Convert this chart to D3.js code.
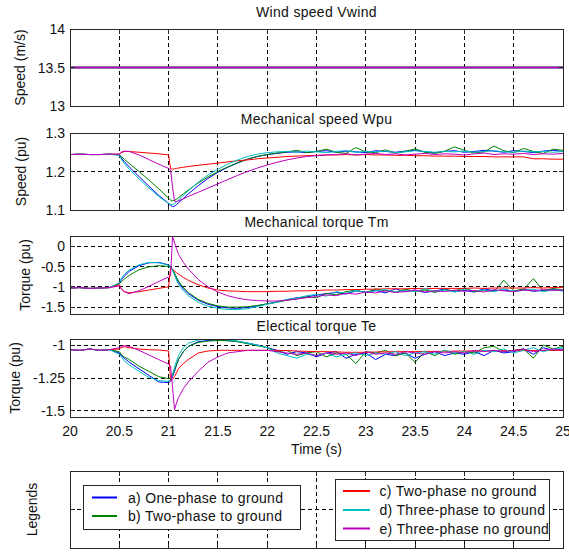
<!DOCTYPE html>
<html><head><meta charset="utf-8">
<script src="https://cdn.jsdelivr.net/npm/d3@7"></script>
<style>
body{margin:0;background:#fff}
svg{display:block}
text{font-family:"Liberation Sans",Arial,sans-serif;fill:#111;font-size:14px}
</style>
</head><body><svg id="c" width="569" height="552"></svg>
<script>
// ---------------- DATA ----------------
const seriesNames = ["a) One-phase to ground","b) Two-phase to ground","c) Two-phase no ground","d) Three-phase to ground","e) Three-phase no ground"];
const seriesColors = ["#0000ff","#008000","#ff0000","#00bfbf","#bf00bf"];

const xTicks = [20,20.5,21,21.5,22,22.5,23,23.5,24,24.5,25];
const xTickLabels = ["20","20.5","21","21.5","22","22.5","23","23.5","24","24.5","25"];

const windTime = [20,25];
const windA = [13.5,13.5], windB = [13.5,13.5], windC = [13.5,13.5], windD = [13.5,13.5], windE = [13.5,13.5];

const time = [20,20.1,20.2,20.3,20.4,20.5,20.52,20.55,20.6,20.7,20.8,20.9,21,21.02,21.04,21.06,21.08,21.1,21.15,21.2,21.3,21.4,21.5,21.6,21.7,21.8,21.9,22,
22.1,22.2,22.3,22.4,22.5,22.6,22.7,22.8,22.9,23,23.1,23.2,23.3,23.4,23.5,23.6,23.7,23.8,23.9,24,24.1,24.2,24.3,24.4,24.5,24.6,24.7,24.8,24.9,25];

// Mechanical speed Wpu
const wpuA = [1.244,1.245,1.244,1.244,1.245,
1.243,1.235,1.226,1.212,1.187,1.162,1.138,1.117,1.112,1.109,1.110,1.114,1.119,1.130,1.142,1.163,1.182,1.198,1.211,1.222,1.232,1.239,1.244,
1.247,1.250,1.251,1.249,1.252,1.254,1.250,1.253,1.251,1.249,1.254,1.252,1.250,1.253,1.255,1.251,1.249,1.252,1.254,1.250,1.252,1.255,1.253,1.250,1.254,1.252,1.249,1.253,1.255,1.252];
const wpuB = [1.244,1.245,1.244,1.244,1.245,
1.244,1.239,1.232,1.221,1.200,1.178,1.155,1.131,1.126,1.124,1.125,1.128,1.132,1.142,1.152,1.170,1.186,1.200,1.212,1.223,1.232,1.239,1.244,
1.248,1.251,1.255,1.249,1.252,1.258,1.250,1.247,1.262,1.251,1.249,1.256,1.248,1.252,1.259,1.250,1.247,1.253,1.264,1.255,1.248,1.251,1.266,1.254,1.249,1.260,1.252,1.247,1.258,1.255];
const wpuC = [1.244,1.245,1.244,1.244,1.245,
1.245,1.249,1.252,1.252,1.250,1.248,1.246,1.243,1.207,1.206,1.207,1.208,1.209,1.211,1.213,1.216,1.219,1.222,1.225,1.228,1.230,1.233,1.235,
1.237,1.239,1.240,1.241,1.242,1.243,1.243,1.244,1.243,1.244,1.243,1.243,1.242,1.242,1.241,1.241,1.240,1.240,1.240,1.239,1.239,1.239,1.238,1.238,1.238,1.238,1.233,1.233,1.232,1.232];
const wpuD = [1.244,1.245,1.244,1.244,1.245,
1.242,1.232,1.221,1.206,1.181,1.157,1.135,1.117,1.114,1.114,1.117,1.121,1.126,1.138,1.150,1.172,1.191,1.206,1.219,1.230,1.239,1.245,1.249,
1.251,1.252,1.250,1.253,1.251,1.249,1.252,1.254,1.250,1.252,1.251,1.253,1.249,1.251,1.254,1.252,1.250,1.252,1.251,1.253,1.250,1.252,1.254,1.251,1.250,1.253,1.251,1.252,1.250,1.252];
const wpuE = [1.244,1.245,1.244,1.244,1.245,
1.245,1.250,1.253,1.252,1.243,1.231,1.219,1.208,1.204,1.160,1.123,1.122,1.124,1.129,1.135,1.146,1.157,1.168,1.179,1.190,1.200,1.209,1.217,
1.224,1.230,1.235,1.239,1.241,1.243,1.244,1.246,1.243,1.245,1.247,1.244,1.246,1.243,1.245,1.247,1.244,1.246,1.245,1.243,1.246,1.248,1.244,1.246,1.245,1.247,1.244,1.246,1.245,1.247];

// Mechanical torque Tm
const tmA = [-1.03,-1.02,-1.04,-1.03,-1.02,
-0.92,-0.83,-0.74,-0.62,-0.48,-0.41,-0.40,-0.46,-0.50,-0.58,-0.68,-0.80,-0.90,-1.05,-1.17,-1.33,-1.43,-1.49,-1.52,-1.53,-1.51,-1.47,-1.42,
-1.37,-1.32,-1.27,-1.25,-1.20,-1.17,-1.14,-1.18,-1.10,-1.13,-1.09,-1.15,-1.05,-1.12,-1.08,-1.14,-1.10,-1.06,-1.12,-1.09,-1.13,-1.05,-1.10,-1.08,-1.12,-1.06,-1.11,-1.09,-1.07,-1.10];
const tmB = [-1.03,-1.02,-1.04,-1.03,-1.02,
-0.93,-0.88,-0.81,-0.72,-0.58,-0.51,-0.48,-0.50,-0.52,-0.58,-0.66,-0.76,-0.86,-1.02,-1.14,-1.31,-1.41,-1.47,-1.50,-1.50,-1.49,-1.46,-1.42,
-1.38,-1.33,-1.30,-1.25,-1.27,-1.16,-1.20,-1.12,-1.08,-1.15,-1.05,-1.10,-1.13,-1.06,-1.11,-1.08,-1.14,-1.07,-1.10,-1.03,-1.12,-1.09,-1.12,-0.84,-1.10,-1.06,-0.80,-1.10,-1.04,-1.08];
const tmC = [-1.03,-1.02,-1.04,-1.03,-1.02,
-0.95,-1.05,-1.12,-1.15,-1.12,-1.08,-1.04,-1.00,-0.54,-0.57,-0.61,-0.65,-0.69,-0.77,-0.84,-0.95,-1.03,-1.08,-1.10,-1.11,-1.12,-1.12,-1.12,
-1.11,-1.11,-1.10,-1.10,-1.09,-1.08,-1.08,-1.07,-1.07,-1.06,-1.06,-1.05,-1.05,-1.05,-1.04,-1.05,-1.04,-1.04,-1.04,-1.04,-1.03,-1.04,-1.03,-1.03,-1.03,-1.03,-1.02,-1.03,-1.02,-1.02];
const tmD = [-1.03,-1.02,-1.04,-1.03,-1.02,
-0.90,-0.80,-0.70,-0.59,-0.46,-0.40,-0.41,-0.47,-0.51,-0.60,-0.71,-0.83,-0.94,-1.10,-1.22,-1.38,-1.48,-1.53,-1.56,-1.56,-1.54,-1.49,-1.43,
-1.38,-1.31,-1.28,-1.22,-1.19,-1.23,-1.12,-1.16,-1.09,-1.14,-1.10,-1.07,-1.13,-1.09,-1.12,-1.05,-1.11,-1.08,-1.13,-1.06,-1.10,-1.08,-1.12,-1.05,-1.11,-1.09,-1.06,-1.12,-1.08,-1.10];
const tmE = [-1.03,-1.02,-1.04,-1.03,-1.02,
-0.98,-1.05,-1.12,-1.17,-1.10,-0.99,-0.87,-0.76,-0.73,0.24,0.08,-0.06,-0.20,-0.40,-0.56,-0.82,-1.00,-1.13,-1.22,-1.28,-1.32,-1.34,-1.35,
-1.35,-1.33,-1.30,-1.27,-1.24,-1.20,-1.22,-1.16,-1.18,-1.13,-1.15,-1.10,-1.14,-1.12,-1.08,-1.13,-1.10,-1.12,-1.08,-1.11,-1.09,-1.13,-1.07,-1.10,-1.12,-1.08,-1.10,-1.07,-1.09,-1.08];

// Electrical torque Te
const teA = [-1.035,-1.04,-1.03,-1.04,-1.035,
-1.06,-1.08,-1.10,-1.13,-1.18,-1.23,-1.28,-1.285,-1.275,-1.24,-1.20,-1.15,-1.11,-1.05,-1.01,-0.975,-0.965,-0.962,-0.965,-0.972,-0.985,-1.00,-1.02,
-1.04,-1.07,-1.05,-1.06,-1.09,-1.06,-1.05,-1.10,-1.07,-1.06,-1.11,-1.07,-1.08,-1.06,-1.10,-1.07,-1.05,-1.08,-1.06,-1.07,-1.05,-1.08,-1.04,-1.06,-1.05,-1.03,-1.07,-1.02,-1.04,-1.03];
const teB = [-1.035,-1.04,-1.03,-1.04,-1.035,
-1.05,-1.07,-1.09,-1.11,-1.16,-1.20,-1.24,-1.255,-1.25,-1.23,-1.19,-1.15,-1.11,-1.05,-1.01,-0.98,-0.97,-0.965,-0.968,-0.975,-0.99,-1.005,-1.02,
-1.05,-1.04,-1.08,-1.06,-1.05,-1.09,-1.06,-1.07,-1.14,-1.05,-1.06,-1.04,-1.08,-1.06,-1.13,-1.05,-1.08,-1.04,-1.07,-1.05,-1.06,-1.02,-1.01,-1.05,-1.04,-1.03,-1.10,-1.00,-1.03,-1.01];
const teC = [-1.035,-1.04,-1.03,-1.04,-1.035,
-1.03,-1.02,-1.012,-1.02,-1.03,-1.035,-1.038,-1.045,-1.27,-1.26,-1.24,-1.21,-1.18,-1.14,-1.11,-1.06,-1.045,-1.04,-1.04,-1.04,-1.04,-1.04,-1.04,
-1.04,-1.042,-1.045,-1.048,-1.05,-1.05,-1.052,-1.055,-1.055,-1.055,-1.053,-1.052,-1.05,-1.05,-1.05,-1.048,-1.048,-1.047,-1.046,-1.045,-1.045,-1.044,-1.043,-1.043,-1.042,-1.042,-1.041,-1.041,-1.04,-1.04];
const teD = [-1.035,-1.04,-1.03,-1.04,-1.035,
-1.07,-1.09,-1.12,-1.15,-1.20,-1.245,-1.27,-1.275,-1.26,-1.22,-1.17,-1.12,-1.08,-1.02,-0.985,-0.962,-0.955,-0.955,-0.96,-0.97,-0.985,-1.00,-1.02,
-1.06,-1.08,-1.10,-1.07,-1.08,-1.06,-1.09,-1.07,-1.06,-1.08,-1.06,-1.07,-1.05,-1.08,-1.06,-1.05,-1.07,-1.04,-1.06,-1.05,-1.07,-1.04,-1.05,-1.03,-1.06,-1.04,-1.02,-1.05,-1.03,-1.02];
const teE = [-1.035,-1.04,-1.03,-1.04,-1.035,
-1.02,-1.01,-1.005,-1.01,-1.04,-1.075,-1.11,-1.145,-1.16,-1.32,-1.49,-1.44,-1.40,-1.33,-1.28,-1.20,-1.13,-1.09,-1.06,-1.05,-1.04,-1.04,-1.04,
-1.05,-1.06,-1.07,-1.06,-1.08,-1.06,-1.07,-1.06,-1.08,-1.05,-1.07,-1.06,-1.07,-1.05,-1.06,-1.07,-1.05,-1.06,-1.05,-1.06,-1.04,-1.05,-1.04,-1.05,-1.04,-1.03,-1.05,-1.04,-1.03,-1.04];

const yTicks1 = [13,13.5,14], yLabels1 = ["13","13.5","14"];
const yTicks2 = [1.1,1.2,1.3], yLabels2 = ["1.1","1.2","1.3"];
const yTicks3 = [-1.5,-1,-0.5,0], yLabels3 = ["-1.5","-1","-0.5","0"];
const yTicks4 = [-1.5,-1.25,-1], yLabels4 = ["-1.5","-1.25","-1"];

// ---------------- LAYOUT ----------------
const svg = d3.select("#c");
const L = 70, R = 563;
const x = d3.scaleLinear().domain([20,25]).range([L,R]);
const ink = "#262626";

const panels = [
  {title:"Wind speed Vwind", ylabel:"Speed (m/s)", top:29, bottom:106, domain:[13,14], ticks:yTicks1, labels:yLabels1, titleY:17, ylabX:20,
   t:windTime, data:[windA,windB,windC,windD,windE], crisp:true},
  {title:"Mechanical speed Wpu", ylabel:"Speed (pu)", top:133, bottom:210, domain:[1.1,1.3], ticks:yTicks2, labels:yLabels2, titleY:124, ylabX:21,
   t:time, data:[wpuA,wpuB,wpuC,wpuD,wpuE]},
  {title:"Mechanical torque Tm", ylabel:"Torque (pu)", top:236, bottom:314, domain:[-1.67,0.25], ticks:yTicks3, labels:yLabels3, titleY:226.5, ylabX:25,
   t:time, data:[tmA,tmB,tmC,tmD,tmE]},
  {title:"Electical torque Te", ylabel:"Torque (pu)", top:339, bottom:417, domain:[-1.546,-0.954], ticks:yTicks4, labels:yLabels4, titleY:331, ylabX:15,
   t:time, data:[teA,teB,teC,teD,teE]}
];

const px = v => Math.floor(v) + 0.5;

function frame(g, top, bottom, y, yt) {
  xTicks.filter(t => t > 20 && t < 25).forEach(t => {
    g.append("line").attr("x1", px(x(t))).attr("x2", px(x(t))).attr("y1", top).attr("y2", bottom)
      .attr("stroke", "#000").attr("stroke-dasharray", "4,3").attr("shape-rendering", "crispEdges");
  });
  yt.forEach(v => {
    const yy = y(v);
    if (Math.abs(yy - top) < 2 || Math.abs(yy - bottom) < 2) return;
    g.append("line").attr("x1", L).attr("x2", R).attr("y1", px(yy)).attr("y2", px(yy))
      .attr("stroke", "#000").attr("stroke-dasharray", "4,3").attr("shape-rendering", "crispEdges");
  });
}
function border(g, top, bottom, y, yt) {
  g.append("rect").attr("x", L + 0.5).attr("y", top + 0.5).attr("width", R - L).attr("height", bottom - top)
    .attr("fill", "none").attr("stroke", ink).attr("shape-rendering", "crispEdges");
  const tl = 5;
  xTicks.forEach(t => {
    const xx = px(x(t));
    g.append("line").attr("x1", xx).attr("x2", xx).attr("y1", top).attr("y2", top + tl).attr("stroke", ink).attr("shape-rendering", "crispEdges");
    g.append("line").attr("x1", xx).attr("x2", xx).attr("y1", bottom - tl + 1).attr("y2", bottom + 1).attr("stroke", ink).attr("shape-rendering", "crispEdges");
  });
  yt.forEach(v => {
    const yy = px(y(v));
    g.append("line").attr("x1", L).attr("x2", L + tl).attr("y1", yy).attr("y2", yy).attr("stroke", ink).attr("shape-rendering", "crispEdges");
    g.append("line").attr("x1", R - tl + 1).attr("x2", R + 1).attr("y1", yy).attr("y2", yy).attr("stroke", ink).attr("shape-rendering", "crispEdges");
  });
}

const defs = svg.append("defs");
panels.forEach((p, i) => {
  const y = d3.scaleLinear().domain(p.domain).range([p.bottom, p.top]);
  const g = svg.append("g");
  frame(g, p.top, p.bottom, y, p.ticks);
  defs.append("clipPath").attr("id", "clip" + i).append("rect")
    .attr("x", L).attr("y", p.top).attr("width", R - L).attr("height", p.bottom - p.top);
  const lg = g.append("g").attr("clip-path", `url(#clip${i})`);
  const line = d3.line().x(d => x(d[0])).y(d => p.crisp ? px(y(d[1])) : y(d[1]));
  p.data.forEach((arr, s) => {
    const pts = p.t.map((t, k) => [t, arr[k]]).filter(d => d[1] !== undefined);
    const path = lg.append("path").attr("d", line(pts)).attr("fill", "none")
      .attr("stroke", seriesColors[s]).attr("stroke-width", p.crisp ? 1.3 : 1).attr("stroke-linejoin", "round");
  });
  border(g, p.top, p.bottom, y, p.ticks);
  p.ticks.forEach((v, k) => {
    g.append("text").attr("x", 65).attr("y", y(v)).attr("dy", "0.36em")
      .attr("text-anchor", "end").text(p.labels[k]);
  });
  g.append("text").attr("x", (L + R) / 2).attr("y", p.titleY).attr("text-anchor", "middle")
    .attr("letter-spacing", "0.3px").text(p.title);
  g.append("text").attr("transform", `translate(${p.ylabX},${(p.top + p.bottom) / 2}) rotate(-90)`)
    .attr("text-anchor", "middle").attr("dy", "0.36em").text(p.ylabel);
});

// x tick labels & axis title
xTicks.forEach((t, k) => {
  svg.append("text").attr("x", x(t)).attr("y", 436).attr("text-anchor", "middle").text(xTickLabels[k]);
});
svg.append("text").attr("x", (L + R) / 2).attr("y", 454).attr("text-anchor", "middle").text("Time (s)");

// ---------------- LEGEND AXES ----------------
const lt = 471, lb = 548;
const ly = d3.scaleLinear().domain([0, 1]).range([lb, lt]);
const lgG = svg.append("g");
frame(lgG, lt, lb, ly, [0.5]);
border(lgG, lt, lb, ly, [0.5]);
svg.append("text").attr("transform", `translate(32,${(lt + lb) / 2}) rotate(-90)`)
  .attr("text-anchor", "middle").attr("dy", "0.36em").text("Legends");

const boxes = [
  {x0:83.5, x1:300.5, y0:485.5, y1:529.5, items:[0,1], rows:[497.5,516], lx0:92, lx1:117, tx:128},
  {x0:335.5, x1:549.5, y0:479.5, y1:540.5, items:[2,3,4], rows:[491,510,528.5], lx0:343, lx1:370, tx:379.5}
];
boxes.forEach(b => {
  lgG.append("rect").attr("x", b.x0).attr("y", b.y0).attr("width", b.x1 - b.x0).attr("height", b.y1 - b.y0)
    .attr("fill", "#fff").attr("stroke", ink).attr("shape-rendering", "crispEdges");
  b.items.forEach((s, k) => {
    const yy = b.rows[k];
    lgG.append("line").attr("x1", b.lx0).attr("x2", b.lx1).attr("y1", yy).attr("y2", yy)
      .attr("stroke", seriesColors[s]).attr("stroke-width", 2);
    lgG.append("text").attr("x", b.tx).attr("y", yy).attr("dy", "0.36em")
      .attr("letter-spacing", "0.3px").text(seriesNames[s]);
  });
});
</script></body></html>
